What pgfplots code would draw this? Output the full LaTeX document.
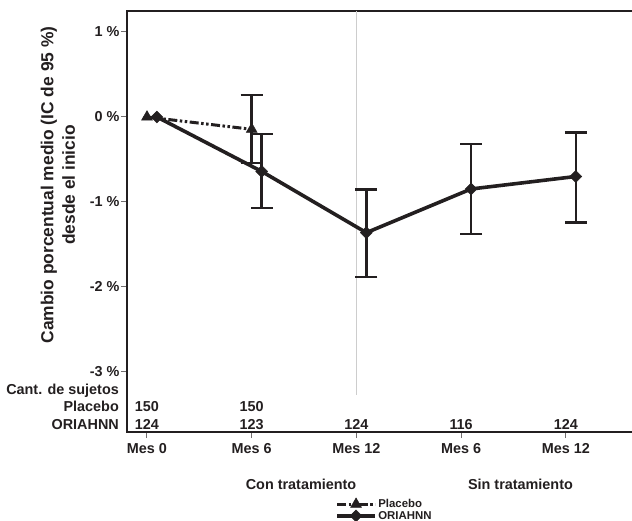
\documentclass[border=0pt]{standalone}
\usepackage{pgfplots}
\pgfplotsset{compat=1.18}
\usepackage{fontspec}
\setmainfont{Liberation Sans}
\definecolor{ink}{RGB}{35,31,32}
\definecolor{refgray}{RGB}{205,205,205}
\begin{document}
\begin{tikzpicture}
\begin{axis}[
  scale only axis, width=505bp, height=421bp,
  xmin=-0.191, xmax=4.632, ymin=-3.706, ymax=1.247,
  clip=false,
  axis line style={draw=none},
  xtick={0,1,2,3,4}, xticklabels={Mes 0,Mes 6,Mes 12,Mes 6,Mes 12},
  ytick={-3,-2,-1,0,1}, yticklabels={-3 \%,-2 \%,-1 \%,0 \%,1 \%},
  xtick pos=left, ytick pos=left,
  tick align=outside,
  major tick length=6bp,
  tick style={ink!65, line width=1bp},
  ticklabel style={font=\fontsize{14.4bp}{16bp}\selectfont\bfseries, text=ink},
  xticklabel style={yshift=-2bp},
  yticklabel style={xshift=2bp},
  legend style={at={(axis description cs:0.412,-0.156)}, anchor=north west, draw=none, fill=none,
    font=\fontsize{11.4bp}{12bp}\selectfont\bfseries, inner sep=0pt, row sep=-1bp,
    nodes={inner sep=1.5bp, text=ink}},
  legend cell align=left,
  legend image code/.code={\draw[mark repeat=2,mark phase=2] plot coordinates {(0bp,0bp) (19bp,0bp) (38bp,0bp)};},
]
% frame (left, top, bottom)
\draw[ink, line width=1.2bp] (rel axis cs:1,1) -- (rel axis cs:0,1) -- (rel axis cs:0,0) -- (rel axis cs:1,0);
\coordinate (ll) at (rel axis cs:0,0);
% reference line
\addplot[forget plot, refgray, line width=1.5bp, mark=none] coordinates {(2,1.247) (2,-3.27)};
% error bars
\addplot[forget plot, draw=none, mark=none, error bars/.cd, y dir=both, y explicit,
  error bar style={ink, line width=2.5bp}, error mark options={ink, line width=2.5bp, mark size=11bp, rotate=90}]
  coordinates {(1,-0.145) += (0,0.405) -= (0,0.395)};
\addplot[forget plot, draw=none, mark=none, error bars/.cd, y dir=both, y explicit,
  error bar style={ink, line width=2.5bp}, error mark options={ink, line width=2.5bp, mark size=11bp, rotate=90}]
  coordinates {
  (1.095,-0.640) += (0,0.44) -= (0,0.43)
  (2.095,-1.361) += (0,0.51) -= (0,0.52)
  (3.095,-0.847) += (0,0.53) -= (0,0.53)
  (4.095,-0.700) += (0,0.515) -= (0,0.54)
  };
% series
\addplot[ink, line width=3bp, dash pattern=on 9bp off 2.5bp on 2.5bp off 2.5bp on 2.5bp off 2.5bp,
  mark=triangle*, mark size=6.3bp, mark options={solid, fill=ink, line width=0.5bp}]
  coordinates {(0,0) (1,-0.145)};
\addlegendentry{Placebo}
\addplot[ink, line width=3.6bp, mark=square*, mark size=4.2bp, mark options={rotate=45, fill=ink, line width=0.5bp}]
  coordinates {(0.095,0) (1.095,-0.640) (2.095,-1.361) (3.095,-0.847) (4.095,-0.700)};
\addlegendentry{ORIAHNN}
% y label
\node[rotate=90, align=center, font=\fontsize{17.4bp}{21.5bp}\selectfont\bfseries, text=ink]
  at (axis cs:-0.850,-0.80) {Cambio porcentual medio (IC de 95 \%)\\desde el inicio};
% subject counts
\begin{scope}[every node/.style={font=\fontsize{14.4bp}{16bp}\selectfont\bfseries, text=ink, inner sep=0pt}]
\node[anchor=base east] at (axis cs:-0.267,-3.262) {Cant. de sujetos};
\node[anchor=base east] at (axis cs:-0.267,-3.467) {Placebo};
\node[anchor=base east] at (axis cs:-0.267,-3.671) {ORIAHNN};
\node[anchor=base] at (axis cs:0,-3.467) {150};
\node[anchor=base] at (axis cs:1,-3.467) {150};
\node[anchor=base] at (axis cs:0,-3.671) {124};
\node[anchor=base] at (axis cs:1,-3.671) {123};
\node[anchor=base] at (axis cs:2,-3.671) {124};
\node[anchor=base] at (axis cs:3,-3.671) {116};
\node[anchor=base] at (axis cs:4,-3.671) {124};
\node[anchor=base] at (axis cs:1.471,-4.382) {Con tratamiento};
\node[anchor=base] at (axis cs:3.567,-4.382) {Sin tratamiento};
\end{scope}
\end{axis}
\pgfresetboundingbox
\path[use as bounding box] (ll) ++(-127bp,-89bp) rectangle ++(632bp,521bp);
\end{tikzpicture}
\end{document}
